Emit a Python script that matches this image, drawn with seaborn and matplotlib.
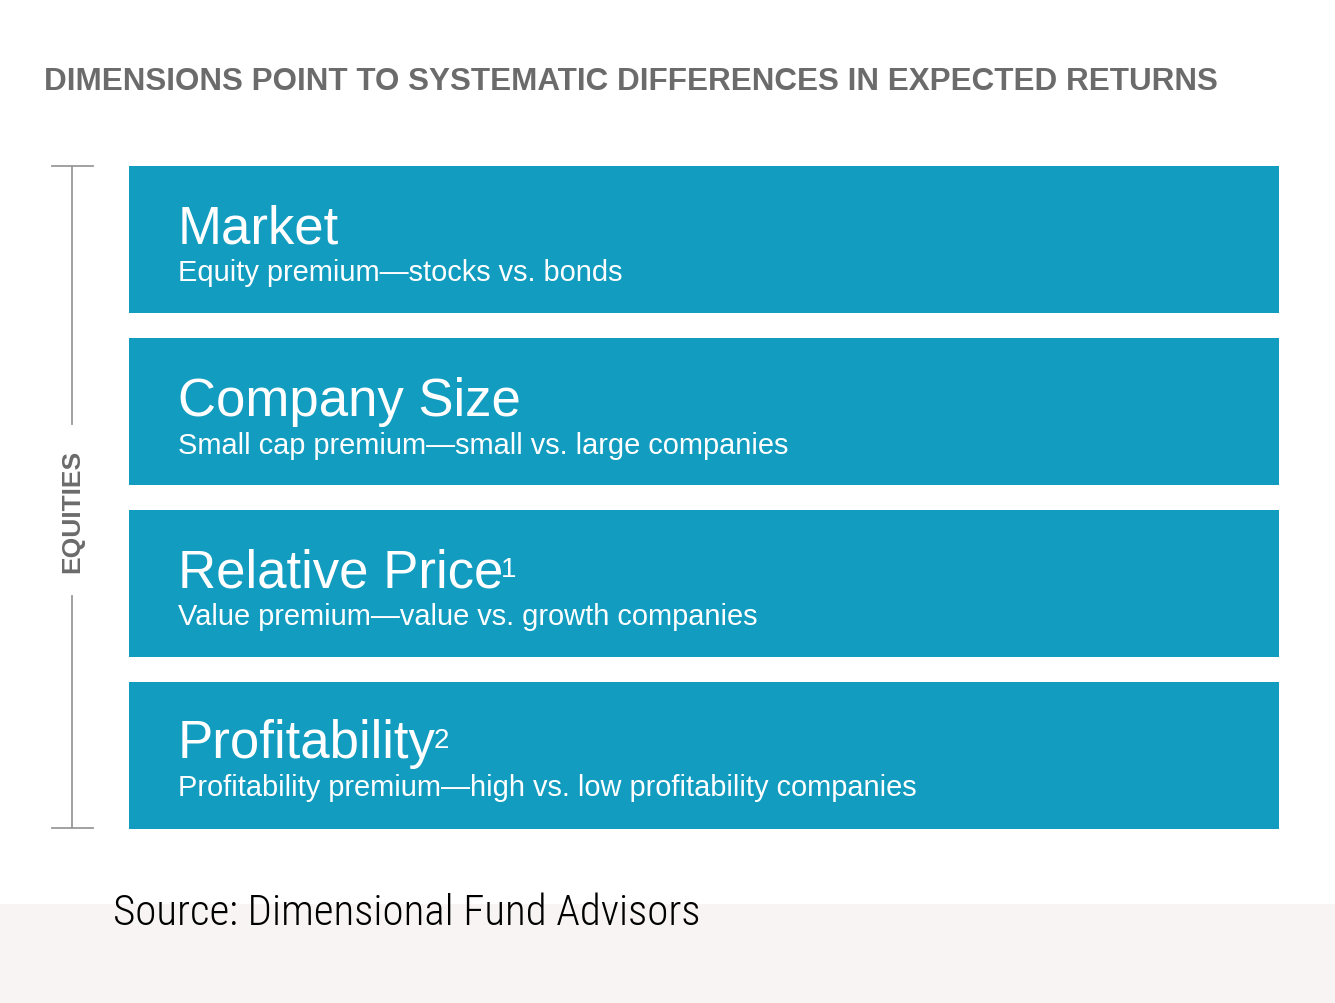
import matplotlib
matplotlib.use("Agg")
import matplotlib.pyplot as plt
import pandas as pd
import seaborn as sns

W, H = 1335, 1004

TITLE = "DIMENSIONS POINT TO SYSTEMATIC DIFFERENCES IN EXPECTED RETURNS"
HEADINGS = ["Market", "Company Size", "Relative Price", "Profitability"]
SUPERSCRIPTS = ["", "", "1", "2"]
SUBTITLES = [
    "Equity premium\u2014stocks vs. bonds",
    "Small cap premium\u2014small vs. large companies",
    "Value premium\u2014value vs. growth companies",
    "Profitability premium\u2014high vs. low profitability companies",
]
SPAN = [1, 1, 1, 1]
SOURCE = "Source: Dimensional Fund Advisors"

BLUE = "#119cc0"
GREY = "#6b6b6b"

df = pd.DataFrame({"dimension": HEADINGS, "span": SPAN})

fig = plt.figure(figsize=(W / 100, H / 100), dpi=100)
fig.patch.set_facecolor("white")

# light footer band
band = fig.add_axes([0, 0, 1, (H - 905) / H])
band.set_facecolor("#f7f4f3")
band.set_xticks([]); band.set_yticks([])
for s in band.spines.values():
    s.set_visible(False)

# bars: category pitch ~172 px, first bar centred at 240.5 px
top_px = 240.5 - 86
ax = fig.add_axes([129 / W, (H - (top_px + 688)) / H, (1279 - 129) / W, 688 / H])
sns.barplot(data=df, x="span", y="dimension", orient="h", color=BLUE,
            saturation=1, width=147 / 172, ax=ax)
ax.set_xlim(0, 1)
ax.axis("off")

def px(x, y):
    return x / W, 1 - y / H

sans = "Liberation Sans"
fig.text(*px(44, 82), TITLE, fontsize=22.6, fontweight="bold", color=GREY,
         family=sans, va="center", ha="left")

row_tops = [167, 340, 511, 682]
fig.canvas.draw()
for top, head, sup, sub in zip(row_tops, HEADINGS, SUPERSCRIPTS, SUBTITLES):
    t = fig.text(*px(178, top + 76), head, fontsize=38, color="white",
                 family=sans, va="baseline", ha="left")
    if sup:
        fig.canvas.draw()
        bb = t.get_window_extent()
        fig.text(bb.x1 / W - 0.002, px(0, top + 66)[1], sup, fontsize=20,
                 color="white", family=sans, va="baseline", ha="left")
    fig.text(*px(178, top + 114), sub, fontsize=20.9, color="white",
             family=sans, va="baseline", ha="left")

# EQUITIES bracket
line_col = "#9a9a9a"
fig.add_artist(plt.Line2D([72 / W] * 2, [px(0, 167)[1], px(0, 425)[1]], color=line_col, lw=1.3))
fig.add_artist(plt.Line2D([72 / W] * 2, [px(0, 597)[1], px(0, 829)[1]], color=line_col, lw=1.3))
for y in (167, 829):
    fig.add_artist(plt.Line2D([52 / W, 93 / W], [px(0, y)[1]] * 2, color=line_col, lw=1.3))
fig.text(*px(72, 511), "EQUITIES", rotation=90, fontsize=19, fontweight="bold",
         color=GREY, family=sans, va="center", ha="center")

fig.text(*px(113, 925), SOURCE, fontsize=31, color="black", fontweight="light",
         family=["Roboto Condensed", "Liberation Sans Narrow", "Liberation Sans"],
         va="baseline", ha="left")

fig.savefig("out.png", dpi=100)
